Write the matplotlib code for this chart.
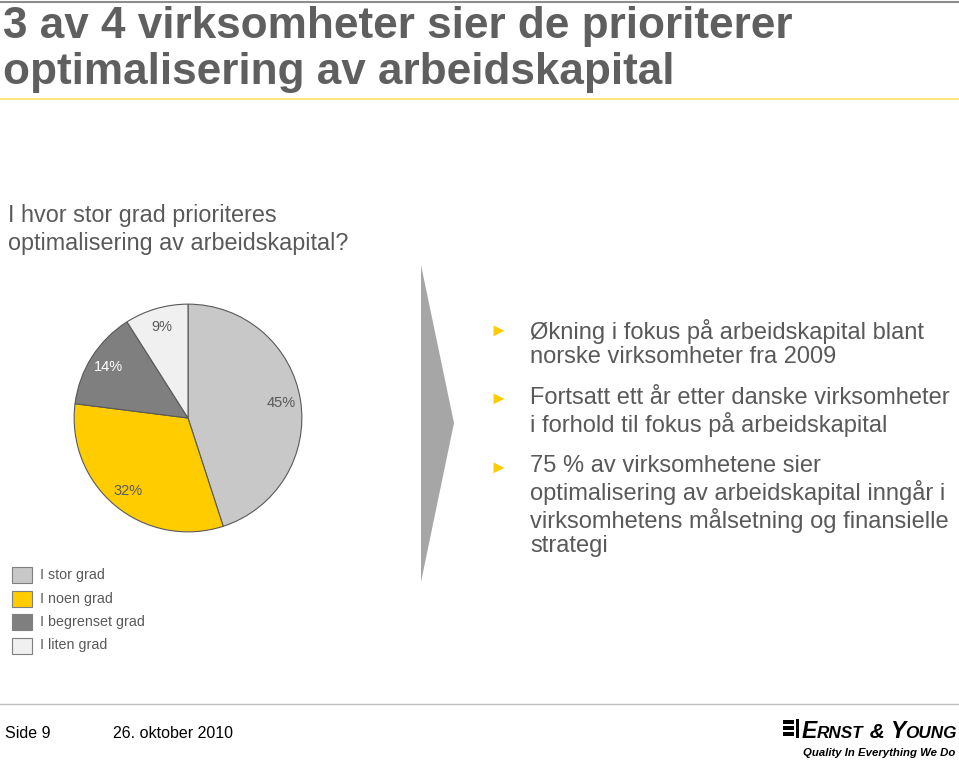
import matplotlib.pyplot as plt
from matplotlib.patches import Polygon, Rectangle

# data
categories = ["I stor grad", "I noen grad", "I begrenset grad", "I liten grad"]
shares = [45, 32, 14, 9]
colors = ["#c8c8c8", "#ffcc00", "#7f7f7f", "#f0f0f0"]
label_colors = ["#595959", "#595959", "#ffffff", "#595959"]

title = "3 av 4 virksomheter sier de prioriterer\noptimalisering av arbeidskapital"
question = "I hvor stor grad prioriteres\noptimalisering av arbeidskapital?"
bullets = [
    "Økning i fokus på arbeidskapital blant\nnorske virksomheter fra 2009",
    "Fortsatt ett år etter danske virksomheter\ni forhold til fokus på arbeidskapital",
    "75 % av virksomhetene sier\noptimalisering av arbeidskapital inngår i\nvirksomhetens målsetning og finansielle\nstrategi",
]

W, H = 959, 763
plt.rcParams["font.family"] = ["Liberation Sans", "DejaVu Sans"]
fig = plt.figure(figsize=(W / 100, H / 100), dpi=100)
text_gray = "#595959"


def fx(x):
    return x / W


def fy(y):
    return 1 - y / H


# top rules
fig.add_artist(plt.Line2D([0, 1], [fy(1.5), fy(1.5)], color="#8c8c8c",
                          linewidth=1.5, transform=fig.transFigure))
fig.add_artist(plt.Line2D([0, 1], [fy(99), fy(99)], color="#ffe680",
                          linewidth=1.5, transform=fig.transFigure))

# title and question
fig.text(fx(3), fy(6), title, fontsize=31.8, fontweight="bold", color="#5f5f5f",
         va="top", ha="left", linespacing=1.17)
fig.text(fx(8), fy(204), question, fontsize=16.8, color=text_gray,
         va="top", ha="left", linespacing=1.3)

# pie
cx, cy, r = 188, 418, 115
ax = fig.add_axes([fx(cx - r), fy(cy + r), (2 * r) / W, (2 * r) / H])
wedges, _, autotexts = ax.pie(
    shares, colors=colors, startangle=90, counterclock=False,
    autopct="%d%%", pctdistance=0.83,
    wedgeprops=dict(edgecolor="#595959", linewidth=0.8),
    textprops=dict(fontsize=10.5),
)
for t, c in zip(autotexts, label_colors):
    t.set_color(c)
ax.set_xlim(-1.01, 1.01)
ax.set_ylim(-1.01, 1.01)
ax.set_aspect("equal")
ax.axis("off")

# legend
for i, (cat, col) in enumerate(zip(categories, colors)):
    y = 575 + i * 23.5
    fig.patches.append(Rectangle((fx(12), fy(y + 8)), fx(20), 16 / H,
                                 transform=fig.transFigure, facecolor=col,
                                 edgecolor="#7f7f7f", linewidth=0.8))
    fig.text(fx(40), fy(y), cat, fontsize=10.3, color=text_gray,
             va="center", ha="left")

# arrow shape
fig.patches.append(Polygon([(fx(421), fy(265)), (fx(454), fy(423)),
                            (fx(421), fy(582))], closed=True,
                           transform=fig.transFigure, facecolor="#a6a6a6",
                           edgecolor="none"))

# bullets
y0 = 331
line_h = 26
for b in bullets:
    fig.text(fx(489), fy(y0), "\u25ba", fontsize=13, color="#ffcc00",
             va="center", ha="left")
    fig.text(fx(530), fy(y0 - 12.5), b, fontsize=17, color=text_gray,
             va="top", ha="left", linespacing=1.14)
    y0 += line_h * (b.count("\n") + 1) + 16.5

# footer
fig.add_artist(plt.Line2D([0, 1], [fy(704), fy(704)], color="#c0c0c0",
                          linewidth=1, transform=fig.transFigure))
fig.text(fx(5), fy(734), "Side 9", fontsize=11.5, color="black", va="center")
fig.text(fx(113), fy(734), "26. oktober 2010", fontsize=11.5, color="black",
         va="center")

# logo mark
for yy in (720, 726, 732):
    fig.patches.append(Rectangle((fx(783), fy(yy + 3.5)), fx(11), 3.5 / H,
                                 transform=fig.transFigure, facecolor="black"))
fig.patches.append(Rectangle((fx(795.5), fy(738)), fx(3.5), 19 / H,
                             transform=fig.transFigure, facecolor="black"))

# logo wordmark in small caps, built piece by piece
pieces = [("E", 16.5), ("RNST", 12.3), (" & ", 15), ("Y", 16.5), ("OUNG", 12.3)]
renderer = fig.canvas.get_renderer()
texts = []
for s, size in pieces:
    t = fig.text(0, fy(738), s, fontsize=size, fontweight="bold",
                 fontstyle="italic", color="black", va="baseline", ha="left")
    texts.append(t)
widths = [t.get_window_extent(renderer).width for t in texts]
x = 957 - sum(widths)
for t, w in zip(texts, widths):
    t.set_x(fx(x))
    x += w

fig.text(fx(955), fy(753), "Quality In Everything We Do", fontsize=8.2,
         fontweight="bold", fontstyle="italic", color="black",
         va="center", ha="right")

fig.savefig("out.png", dpi=100)
